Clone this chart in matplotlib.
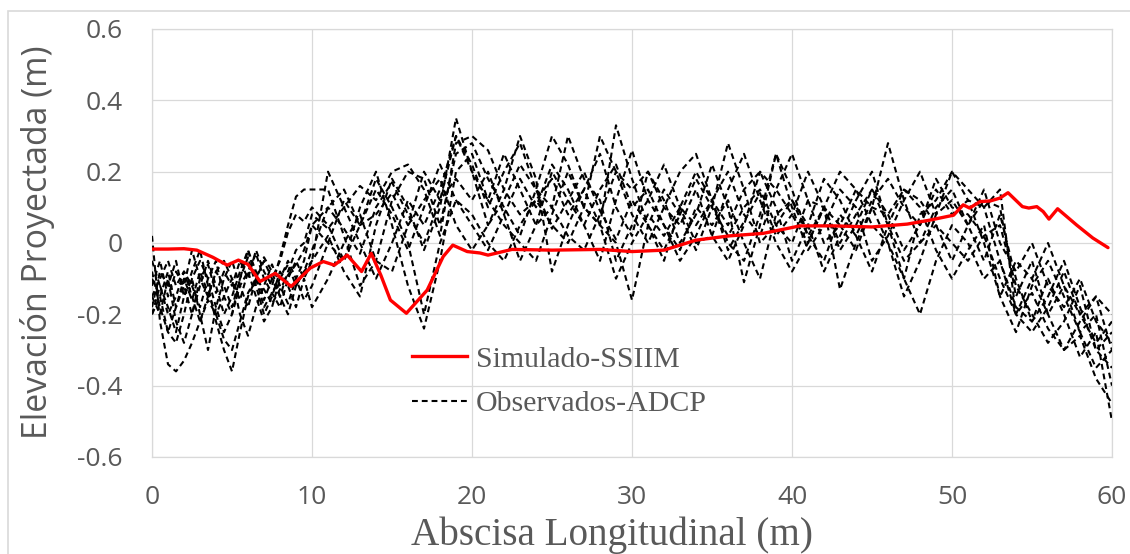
import numpy as np
import matplotlib
matplotlib.use("Agg")
import matplotlib.pyplot as plt
from matplotlib.lines import Line2D
from matplotlib.patches import Rectangle

# ---------------- data ----------------
# Simulated (SSIIM) profile
sim_x = [0, 1, 2, 2.8, 3.8, 4.7, 5.4, 6.0, 6.75, 7.7, 8.7, 9.9, 10.7, 11.4, 12.2,
         13.1, 13.7, 14.3, 14.9, 15.9, 17.2, 18.2, 18.8, 19.7, 20.5, 21.0, 22.5, 25, 28, 30,
         32, 34, 36.1, 38.2, 40.5, 42.6, 45, 47.2, 48.6, 50.1, 50.7, 51.1, 51.75, 52.4, 53.0,
         53.5, 54.4, 54.8, 55.3, 55.7, 56.06, 56.6, 57.8, 58.8, 59.75]
sim_y = [-0.017, -0.017, -0.016, -0.02, -0.04, -0.062, -0.048, -0.06, -0.108, -0.085,
         -0.122, -0.07, -0.052, -0.062, -0.034, -0.08, -0.029, -0.09, -0.16, -0.197,
         -0.132, -0.038, -0.006, -0.024, -0.028, -0.034, -0.018, -0.02, -0.018, -0.024,
         -0.02, 0.008, 0.02, 0.027, 0.048, 0.048, 0.045, 0.053, 0.064, 0.078,
         0.107, 0.098, 0.116, 0.118, 0.126, 0.141, 0.102, 0.098, 0.102, 0.088,
         0.067, 0.096, 0.05, 0.014, -0.013]

# Observed (ADCP) abscissa grid: 0-9.5 every 0.5 m, 10-60 every 1 m
obs_x = list(np.arange(0, 10, 0.5)) + list(np.arange(10, 61, 1.0))

obs1 = [0.02, -0.22, -0.34, -0.36, -0.33, -0.28, -0.22, -0.16, -0.2, -0.27,
        -0.3, -0.22, -0.14, -0.1, -0.13, -0.17, -0.13, -0.09, -0.06, -0.02,
        0.05, 0.1, 0.04, -0.03, 0.1, 0.17, 0.08, 0.0, 0.12, 0.3,
        0.22, 0.1, 0.2, 0.28, 0.15, 0.04, 0.12, 0.2, 0.09, 0.01,
        0.12, 0.05, -0.02, 0.08, 0.18, 0.1, 0.02, 0.1, 0.15, 0.05,
        0.0, 0.12, 0.1, -0.02, 0.05, 0.15, 0.08, -0.02, 0.05, 0.18,
        0.1, 0.08, 0.02, -0.1, -0.2, -0.14, -0.24, -0.3, -0.26, -0.38,
        -0.45]
obs2 = [-0.1, -0.15, -0.08, -0.18, -0.12, -0.2, -0.1, -0.06, -0.14, -0.08,
        -0.12, -0.05, -0.1, -0.02, -0.08, -0.12, -0.04, 0.05, 0.13, 0.15,
        0.15, 0.15, 0.02, -0.12, -0.05, 0.12, 0.2, 0.18, 0.05, 0.25,
        0.28, 0.18, 0.1, 0.02, 0.15, 0.3, 0.22, 0.1, 0.05, 0.33,
        0.18, 0.05, -0.05, 0.1, 0.2, 0.12, 0.0, -0.05, 0.08, 0.25,
        0.1, -0.02, 0.05, 0.15, 0.1, -0.05, 0.02, 0.12, 0.2, 0.08,
        0.2, 0.12, 0.1, 0.15, -0.2, -0.25, -0.18, -0.08, -0.2, -0.28,
        -0.22]
obs3 = [-0.05, -0.12, -0.2, -0.15, -0.08, -0.12, -0.18, -0.1, -0.05, -0.15,
        -0.2, -0.1, -0.02, -0.08, -0.16, -0.1, -0.05, 0.03, 0.08, 0.06,
        0.1, 0.05, -0.05, 0.1, 0.2, 0.05, -0.12, -0.24, -0.05, 0.2,
        0.25, 0.12, 0.05, 0.0, -0.05, 0.08, 0.2, 0.1, 0.05, 0.0,
        -0.16, 0.05, 0.15, 0.08, -0.02, 0.1, 0.28, 0.15, 0.0, 0.05,
        0.12, 0.05, -0.08, 0.02, 0.12, 0.2, 0.05, -0.1, -0.2, -0.05,
        0.05, 0.0, -0.1, -0.05, -0.2, -0.1, 0.0, -0.12, -0.2, -0.15,
        -0.3]
obs4 = [-0.18, -0.08, -0.12, -0.05, -0.15, -0.1, -0.2, -0.3, -0.18, -0.1,
        -0.05, -0.12, -0.18, -0.1, -0.04, -0.08, -0.15, -0.2, -0.12, -0.08,
        -0.05, 0.02, -0.08, -0.15, 0.05, 0.18, 0.1, -0.02, 0.1, 0.35,
        0.2, 0.05, 0.15, 0.3, 0.18, -0.08, 0.05, 0.15, 0.25, 0.1,
        0.02, 0.2, 0.12, 0.0, 0.08, 0.22, 0.1, -0.11, 0.05, 0.25,
        0.15, 0.02, 0.1, -0.13, 0.0, 0.1, 0.28, 0.12, 0.0, 0.1,
        0.15, 0.05, -0.05, 0.08, -0.1, -0.22, -0.15, -0.05, -0.18, -0.3,
        -0.35]
obs5 = [-0.15, -0.2, -0.1, -0.22, -0.28, -0.2, -0.12, -0.05, -0.12, -0.2,
        -0.15, -0.08, -0.02, -0.1, -0.18, -0.14, -0.1, -0.05, -0.1, -0.16,
        -0.12, 0.0, 0.12, 0.05, 0.15, 0.08, -0.02, 0.1, 0.22, 0.12,
        0.05, -0.02, 0.08, 0.18, 0.1, 0.22, 0.15, 0.05, -0.05, 0.12,
        0.26, 0.12, 0.05, -0.05, 0.02, 0.12, 0.05, 0.15, 0.2, 0.1,
        -0.05, 0.05, 0.18, 0.12, 0.02, -0.08, 0.05, 0.15, 0.1, -0.02,
        -0.1, -0.02, 0.05, -0.15, -0.25, -0.12, -0.05, -0.15, -0.25, -0.2,
        -0.4]
obs6 = [-0.2, -0.12, -0.18, -0.25, -0.15, -0.08, -0.02, -0.12, -0.22, -0.3,
        -0.36, -0.25, -0.15, -0.1, -0.05, -0.1, -0.15, -0.08, -0.02, 0.0,
        0.08, 0.04, 0.1, 0.16, 0.12, 0.2, 0.22, 0.15, 0.02, 0.28,
        0.3, 0.26, 0.15, 0.08, 0.12, 0.05, 0.0, 0.1, 0.3, 0.2,
        0.08, 0.0, 0.1, 0.2, 0.25, 0.12, -0.02, 0.06, 0.14, 0.02,
        0.08, 0.2, 0.1, 0.0, 0.08, 0.15, 0.05, -0.05, 0.0, 0.05,
        0.0, -0.05, 0.02, 0.05, -0.12, -0.2, -0.28, -0.22, -0.12, -0.3,
        -0.25]
obs7 = [-0.12, -0.05, -0.15, -0.08, -0.12, -0.02, -0.1, -0.15, -0.08, -0.12,
        -0.18, -0.1, -0.04, -0.12, -0.2, -0.15, -0.08, -0.12, -0.18, -0.1,
        -0.18, -0.1, 0.0, 0.08, -0.05, -0.08, 0.05, 0.12, 0.18, 0.05,
        -0.02, 0.05, 0.12, 0.22, 0.15, 0.1, 0.3, 0.18, 0.12, -0.05,
        0.05, 0.12, 0.22, 0.1, 0.0, 0.02, 0.15, 0.25, 0.12, 0.0,
        -0.08, 0.0, 0.1, 0.2, 0.15, 0.05, 0.0, -0.1, 0.08, 0.12,
        0.2, 0.15, 0.1, -0.05, -0.18, -0.22, -0.1, -0.2, -0.32, -0.25,
        -0.5]
obs8 = [-0.08, -0.18, -0.25, -0.28, -0.2, -0.1, -0.05, -0.1, -0.18, -0.25,
        -0.2, -0.12, -0.08, -0.15, -0.22, -0.18, -0.1, -0.06, -0.12, -0.08,
        -0.02, 0.1, 0.15, 0.05, 0.08, 0.14, 0.05, 0.2, 0.12, 0.18,
        0.12, 0.2, 0.08, -0.05, 0.05, 0.2, 0.12, 0.05, 0.15, 0.22,
        0.1, 0.15, 0.05, -0.02, 0.1, 0.05, 0.12, 0.0, -0.1, 0.08,
        0.12, 0.02, -0.05, 0.08, 0.02, 0.12, 0.18, 0.1, 0.05, 0.15,
        0.08, 0.12, 0.0, -0.15, -0.05, -0.1, -0.2, -0.3, -0.22, -0.15,
        -0.2]
obs9 = [-0.15, -0.1, -0.05, -0.12, -0.08, -0.15, -0.22, -0.15, -0.08, -0.05,
        -0.1, -0.16, -0.08, -0.03, -0.1, -0.14, -0.18, -0.1, -0.05, -0.1,
        -0.05, 0.2, 0.1, 0.0, -0.1, 0.0, 0.12, 0.05, 0.15, 0.3,
        0.2, 0.12, 0.25, 0.15, 0.05, 0.1, 0.02, -0.02, 0.08, 0.2,
        0.15, 0.2, 0.1, 0.05, 0.15, 0.02, -0.05, 0.05, 0.2, 0.15,
        0.25, 0.12, 0.0, 0.05, -0.02, 0.1, 0.0, -0.15, -0.05, 0.08,
        0.12, 0.05, 0.15, 0.0, -0.08, 0.0, -0.12, -0.18, -0.1, -0.22,
        -0.28]
obs10 = [-0.2, -0.15, -0.25, -0.18, -0.1, -0.16, -0.08, -0.14, -0.2, -0.15,
         -0.1, -0.2, -0.26, -0.18, -0.12, -0.06, -0.12, -0.17, -0.1, -0.05,
         0.05, 0.0, -0.05, 0.05, 0.18, 0.1, 0.0, -0.2, 0.0, 0.12,
         0.08, 0.0, -0.05, 0.05, 0.12, 0.18, 0.08, 0.15, 0.05, -0.1,
         0.0, 0.08, 0.02, 0.1, 0.05, 0.12, 0.2, 0.08, 0.02, 0.15,
         0.08, 0.0, 0.1, 0.05, 0.15, 0.1, 0.08, 0.15, 0.12, 0.05,
         -0.05, 0.05, 0.12, 0.1, -0.15, -0.05, -0.2, -0.12, -0.25, -0.35,
         -0.3]

obs_series = [obs1, obs2, obs3, obs4, obs5, obs6, obs7, obs8, obs9, obs10]

x_ticks = [0, 10, 20, 30, 40, 50, 60]
y_ticks = [-0.6, -0.4, -0.2, 0, 0.2, 0.4, 0.6]
y_tick_labels = ["-0.6", "-0.4", "-0.2", "0", "0.2", "0.4", "0.6"]

label_sim = "Simulado-SSIIM"
label_obs = "Observados-ADCP"
xlabel = "Abscisa Longitudinal (m)"
ylabel = "Elevación Proyectada (m)"

# ---------------- figure ----------------
W, H = 1130, 554
fig = plt.figure(figsize=(W / 100, H / 100), dpi=100)
ax = fig.add_axes([152 / W, (H - 457) / H, (1112 - 152) / W, (457 - 29) / H])

grid_c = "#d9d9d9"
text_c = "#595959"
dash = (2.8, 1.9)

for ys in obs_series:
    ax.plot(obs_x, ys, color="black", lw=1.5, dashes=dash, zorder=3,
            dash_joinstyle="round")
ax.plot(sim_x, sim_y, color="#ff0000", lw=2.4, zorder=4,
        solid_capstyle="round", solid_joinstyle="round")

ax.set_xlim(0, 60)
ax.set_ylim(-0.6, 0.6)
ax.set_xticks(x_ticks)
ax.set_yticks(y_ticks)
ax.set_yticklabels(y_tick_labels)
ax.grid(True, color=grid_c, lw=0.9, zorder=0)
ax.set_axisbelow(True)
for s in ax.spines.values():
    s.set_color(grid_c)
    s.set_linewidth(0.9)
ax.tick_params(length=0, labelsize=19, labelcolor=text_c)
ax.tick_params(axis="y", pad=21)
ax.tick_params(axis="x", pad=20)
for lab in ax.get_xticklabels() + ax.get_yticklabels():
    lab.set_fontfamily("Open Sans")

fig.text(611.7 / W, (H - 545) / H, xlabel, family="Liberation Serif",
         fontsize=28.2, color=text_c, ha="center", va="baseline")
fig.text(38 / W, (H - 242) / H, ylabel, family="Open Sans", fontsize=24.4,
         color=text_c, ha="center", va="center", rotation=90)

handles = [Line2D([], [], color="#ff0000", lw=2.4),
           Line2D([], [], color="black", lw=1.5, dashes=dash)]
leg = ax.legend(handles, [label_sim, label_obs], loc="center left",
                bbox_to_anchor=((412 - 152) / 960, (457 - 381.5) / 428),
                frameon=False, borderpad=0, borderaxespad=0,
                handlelength=1.85, handletextpad=0.28, labelspacing=0.6,
                prop={"family": "Liberation Serif", "size": 21.5})
for t in leg.get_texts():
    t.set_color(text_c)

fig.patches.append(Rectangle((8 / W, -0.05), 1.1, 1 - 11 / H + 0.05,
                             transform=fig.transFigure, fill=False,
                             edgecolor=grid_c, lw=1.2, zorder=-1))

fig.savefig("out.png", dpi=100)
